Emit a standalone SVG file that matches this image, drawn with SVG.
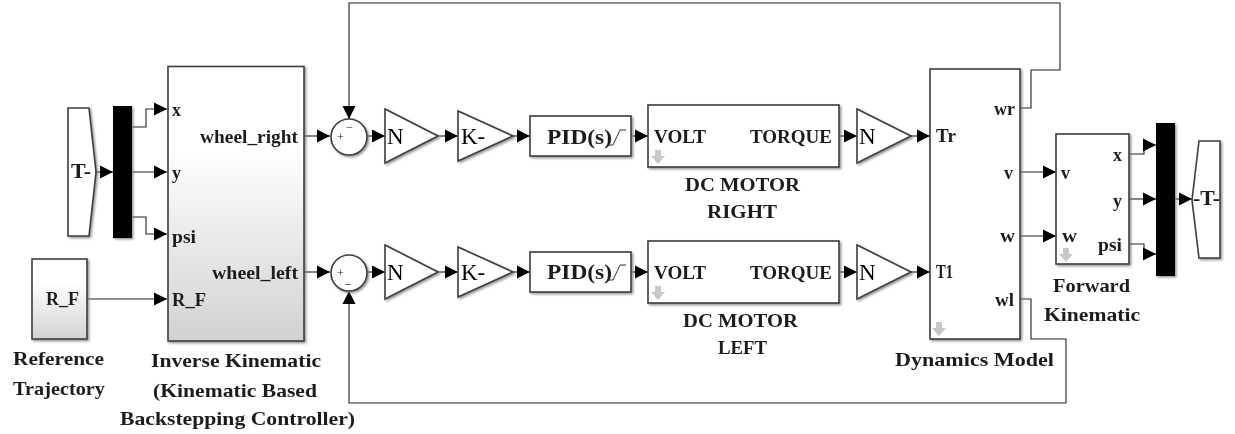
<svg xmlns="http://www.w3.org/2000/svg" width="1235" height="434" viewBox="0 0 1235 434">
<style>
text{font-family:"Liberation Serif","Times New Roman",serif;font-weight:bold;font-size:18px;fill:#1c1c1c;filter:url(#soft)}
.big{font-size:23px;font-weight:normal;fill:#000}
.mid{font-size:21px}
.cap{font-size:19px}
.b{fill:#fff;stroke:#3c3c3c;stroke-width:1.6;filter:url(#sh)}
.g{fill:url(#gr);stroke:#3c3c3c;stroke-width:1.6;filter:url(#sh)}
.k{fill:#000;filter:url(#sh)}
.c{fill:none;stroke:#222;stroke-width:1.1;marker-end:url(#ah)}
.p{fill:none;stroke:#333;stroke-width:1}
.d{fill:#c8c8c8}
.s{font-size:12px;font-weight:normal}
</style>
<defs>
<filter id="soft" x="-10%" y="-10%" width="120%" height="120%"><feGaussianBlur stdDeviation=".3"/></filter>
<filter id="sh" x="-20%" y="-20%" width="145%" height="145%"><feDropShadow dx="1.5" dy="1.5" stdDeviation="1.3" flood-color="#777" flood-opacity=".8"/></filter>
<linearGradient id="gr" x1="0" y1="0" x2="0" y2="1"><stop offset="0" stop-color="#fff"/><stop offset=".3" stop-color="#fff"/><stop offset="1" stop-color="#d2d2d2"/></linearGradient>
<marker id="ah" markerUnits="userSpaceOnUse" markerWidth="14" markerHeight="14" refX="13" refY="7" orient="auto"><path d="M0 .5L13 7L0 13.500Z" fill="#000"/></marker>
<path id="da" d="M-3 -7H3V-1H7L0 7L-7 -1H-3Z"/>
</defs>

<g id="connectors">
<path class="c" d="M96 172H113"/>
<path class="c" d="M132 127H146V109H167"/>
<path class="c" d="M132 172H167"/>
<path class="c" d="M132 217H146V234H167"/>
<path class="c" d="M87 299H167"/>
<path class="c" d="M304 136H330"/>
<path class="c" d="M304 272H330"/>
<path class="c" d="M367 136H385"/>
<path class="c" d="M367 272H385"/>
<path class="c" d="M438 136H458"/>
<path class="c" d="M438 272H458"/>
<path class="c" d="M513 136H530"/>
<path class="c" d="M513 272H530"/>
<path class="c" d="M631 136H648"/>
<path class="c" d="M631 272H648"/>
<path class="c" d="M839 136H857"/>
<path class="c" d="M839 272H857"/>
<path class="c" d="M911 136H930"/>
<path class="c" d="M911 272H930"/>
<path class="c" d="M1020 172H1056"/>
<path class="c" d="M1020 236H1056"/>
<path class="c" d="M1129 154H1144V145H1156"/>
<path class="c" d="M1129 199H1156"/>
<path class="c" d="M1129 244H1144V254H1156"/>
<path class="c" d="M1175 199H1192"/>
<path class="c" d="M1020 108H1031V70H1060V3H349V119"/>
<path class="c" d="M1020 299H1031V339H1066V403H349V291"/>
</g>

<g id="source-left"><path class="b" d="M68 108H89L96 172L89 236H68Z"/><text x="71" y="178" class="mid" textLength="20" lengthAdjust="spacingAndGlyphs">T-</text></g>
<g id="mux-left"><rect class="k" x="113" y="106" width="19" height="132"/></g>
<g id="reference-trajectory"><rect class="g" x="32" y="259" width="55" height="80"/><text x="46" y="305" textLength="33" lengthAdjust="spacingAndGlyphs">R_F</text>
<text x="13" y="365" class="cap" textLength="91" lengthAdjust="spacingAndGlyphs">Reference</text><text x="13" y="395" class="cap" textLength="92" lengthAdjust="spacingAndGlyphs">Trajectory</text></g>
<g id="inverse-kinematic"><rect class="g" x="168" y="66.500" width="136" height="274.500"/>
<text x="172" y="116">x</text><text x="172" y="179">y</text><text x="172" y="243" textLength="24" lengthAdjust="spacingAndGlyphs">psi</text><text x="172" y="306" textLength="34" lengthAdjust="spacingAndGlyphs">R_F</text>
<text x="200" y="143" textLength="98" lengthAdjust="spacingAndGlyphs">wheel_right</text><text x="212" y="279" textLength="86" lengthAdjust="spacingAndGlyphs">wheel_left</text>
<text x="151" y="367" class="cap" textLength="170" lengthAdjust="spacingAndGlyphs">Inverse Kinematic</text><text x="153" y="397" class="cap" textLength="164" lengthAdjust="spacingAndGlyphs">(Kinematic Based</text><text x="120" y="425" class="cap" textLength="235" lengthAdjust="spacingAndGlyphs">Backstepping Controller)</text></g>

<g id="sum-right"><circle class="b" cx="349" cy="137" r="18"/><text x="337" y="141" class="s">+</text><text x="346" y="131" class="s">−</text></g>
<g id="sum-left"><circle class="b" cx="349" cy="273" r="18"/><text x="337" y="277" class="s">+</text><text x="345" y="283" class="s">_</text></g>

<g id="gain-n-1"><path class="b" d="M385 109L438 136L385 163Z"/><text x="387" y="144" class="big">N</text></g>
<g id="gain-n-2"><path class="b" d="M385 245L438 272L385 299Z"/><text x="387" y="280" class="big">N</text></g>
<g id="gain-k-1"><path class="b" d="M458 111L513 136L458 161Z"/><text x="461" y="144" class="big">K-</text></g>
<g id="gain-k-2"><path class="b" d="M458 247L513 272L458 297Z"/><text x="461" y="280" class="big">K-</text></g>

<g id="pid-right"><rect class="b" x="530" y="116" width="101" height="40"/><text x="547" y="144" class="mid" textLength="65" lengthAdjust="spacingAndGlyphs">PID(s)</text><path class="p" d="M607 145H613L620 130H626"/></g>
<g id="pid-left"><rect class="b" x="530" y="252" width="101" height="40"/><text x="547" y="279" class="mid" textLength="65" lengthAdjust="spacingAndGlyphs">PID(s)</text><path class="p" d="M607 280H613L620 265H626"/></g>

<g id="dc-motor-right"><rect class="b" x="648" y="105" width="191" height="62"/><text x="654" y="143" textLength="52" lengthAdjust="spacingAndGlyphs">VOLT</text><text x="750" y="143" textLength="82" lengthAdjust="spacingAndGlyphs">TORQUE</text><use href="#da" class="d" x="658" y="157"/>
<text x="685" y="191" class="cap" textLength="115" lengthAdjust="spacingAndGlyphs">DC MOTOR</text><text x="707" y="218" class="cap" textLength="70" lengthAdjust="spacingAndGlyphs">RIGHT</text></g>
<g id="dc-motor-left"><rect class="b" x="648" y="241" width="191" height="62"/><text x="654" y="279" textLength="52" lengthAdjust="spacingAndGlyphs">VOLT</text><text x="750" y="279" textLength="82" lengthAdjust="spacingAndGlyphs">TORQUE</text><use href="#da" class="d" x="658" y="293"/>
<text x="683" y="327" class="cap" textLength="115" lengthAdjust="spacingAndGlyphs">DC MOTOR</text><text x="718" y="354" class="cap" textLength="49" lengthAdjust="spacingAndGlyphs">LEFT</text></g>

<g id="gain-n-3"><path class="b" d="M857 109L911 136L857 163Z"/><text x="859" y="144" class="big">N</text></g>
<g id="gain-n-4"><path class="b" d="M857 245L911 272L857 299Z"/><text x="859" y="280" class="big">N</text></g>

<g id="dynamics-model"><rect class="b" x="930" y="69" width="90" height="270"/>
<text x="936" y="142" class="cap" textLength="20">Tr</text><text x="936" y="278" class="cap" textLength="17" lengthAdjust="spacingAndGlyphs">T1</text>
<text x="994" y="115" textLength="21" lengthAdjust="spacingAndGlyphs">wr</text><text x="1004" y="179">v</text><text x="1000" y="242" textLength="15" lengthAdjust="spacingAndGlyphs">w</text><text x="995" y="306" textLength="19" lengthAdjust="spacingAndGlyphs">wl</text>
<use href="#da" class="d" x="939" y="329"/>
<text x="895" y="366" class="cap" textLength="159" lengthAdjust="spacingAndGlyphs">Dynamics Model</text></g>

<g id="forward-kinematic"><rect class="b" x="1056" y="134" width="73" height="130"/>
<text x="1061" y="179">v</text><text x="1062" y="242" textLength="15" lengthAdjust="spacingAndGlyphs">w</text>
<text x="1122" y="161" text-anchor="end">x</text><text x="1122" y="207" text-anchor="end">y</text><text x="1098" y="251" textLength="24" lengthAdjust="spacingAndGlyphs">psi</text>
<use href="#da" class="d" x="1066" y="255"/>
<text x="1053" y="292" class="cap" textLength="77" lengthAdjust="spacingAndGlyphs">Forward</text><text x="1044" y="321" class="cap" textLength="96" lengthAdjust="spacingAndGlyphs">Kinematic</text></g>

<g id="mux-right"><rect class="k" x="1156" y="123" width="19" height="153"/></g>
<g id="sink-right"><path class="b" d="M1192 200L1199 141H1220V258H1199Z"/><text x="1193" y="205" class="mid" textLength="27" lengthAdjust="spacingAndGlyphs">-T-</text></g>
</svg>
